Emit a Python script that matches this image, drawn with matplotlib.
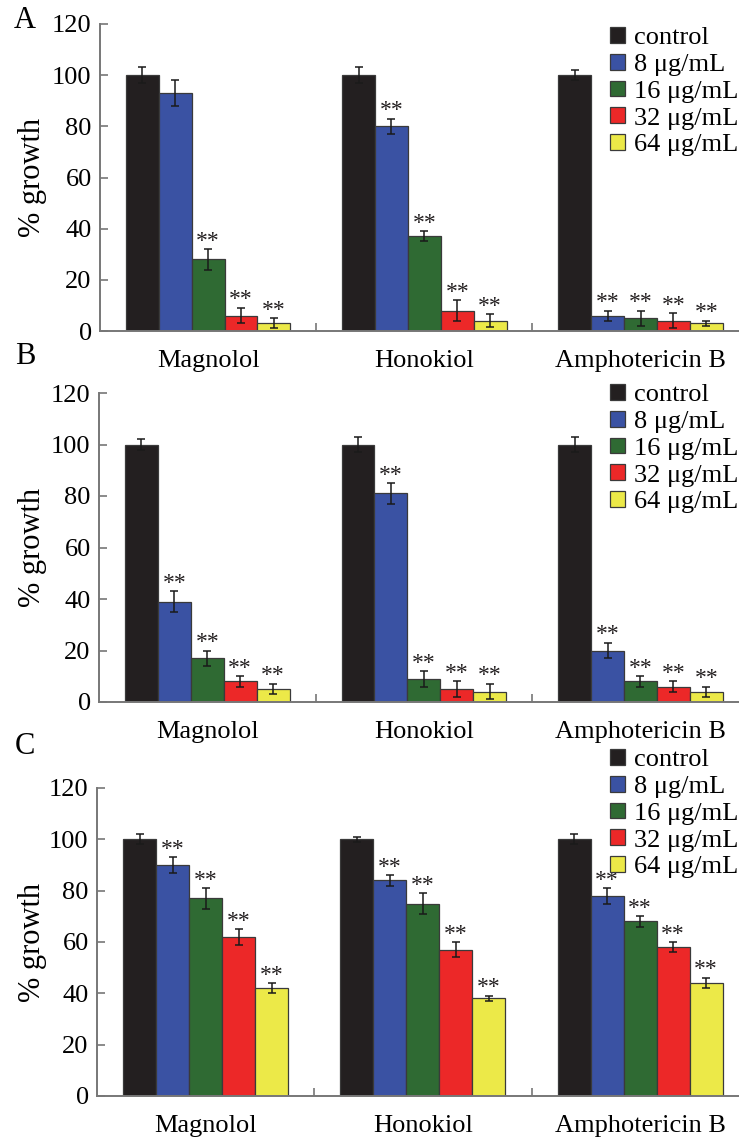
import matplotlib
matplotlib.use("Agg")
import matplotlib.pyplot as plt
from matplotlib.patches import Patch
import numpy as np

plt.rcParams['font.family'] = ['Liberation Serif', 'DejaVu Serif']

compounds = ["Magnolol", "Honokiol", "Amphotericin B"]
series = ["control", "8 μg/mL", "16 μg/mL", "32 μg/mL", "64 μg/mL"]
colors = ["#231f20", "#3a52a3", "#2f6a33", "#ec2828", "#ece948"]
panel_letters = ["A", "B", "C"]
yticks = [0, 20, 40, 60, 80, 100, 120]

# values[compound][series]
A_vals = [[100, 93, 28, 6, 3], [100, 80, 37, 8, 4], [100, 6, 5, 4, 3]]
A_err = [[3, 5, 4, 3, 2], [3, 3, 2, 4, 2.5], [2, 2, 3, 3, 1]]
A_sig = [[0, 0, 1, 1, 1], [0, 1, 1, 1, 1], [0, 1, 1, 1, 1]]

B_vals = [[100, 39, 17, 8, 5], [100, 81, 9, 5, 4], [100, 20, 8, 6, 4]]
B_err = [[2, 4, 3, 2, 2], [3, 4, 3, 3, 3], [3, 3, 2, 2, 2]]
B_sig = [[0, 1, 1, 1, 1], [0, 1, 1, 1, 1], [0, 1, 1, 1, 1]]

C_vals = [[100, 90, 77, 62, 42], [100, 84, 75, 57, 38], [100, 78, 68, 58, 44]]
C_err = [[2, 3, 4, 3, 2], [1, 2, 4, 3, 1], [2, 3, 2, 2, 2]]
C_sig = [[0, 1, 1, 1, 1], [0, 1, 1, 1, 1], [0, 1, 1, 1, 1]]

panels = [(A_vals, A_err, A_sig), (B_vals, B_err, B_sig), (C_vals, C_err, C_sig)]

W, H = 739, 1139
fig = plt.figure(figsize=(W / 100, H / 100), dpi=100)

# axes geometry in pixels: (left, y_zero, y_top)
geom = [(100, 331, 24), (99, 702, 393), (97, 1096, 788)]
legend_top = [27, 384, 749]
letter_pos = [(25, 20), (25, 356), (25, 747)]

bw = 0.152
x = np.arange(len(compounds))
axis_col = "#777777"

for p, ((vals, errs, sigs), (lx, y0, yt)) in enumerate(zip(panels, geom)):
    ax = fig.add_axes([lx / W, 1 - y0 / H, (W - lx) / W, (y0 - yt) / H])
    vals = np.array(vals)
    errs = np.array(errs)
    for s in range(len(series)):
        xs = x + (s - 2) * bw
        ax.bar(xs, vals[:, s], width=bw, color=colors[s], edgecolor="#3a3a3a",
               linewidth=0.9, zorder=2)
        ax.errorbar(xs, vals[:, s], yerr=errs[:, s], fmt="none", ecolor="#1a1a1a",
                    elinewidth=1.1, capsize=2.6, capthick=1.1, zorder=3)
        for c in range(len(compounds)):
            if sigs[c][s]:
                ax.annotate("**", (xs[c], vals[c, s] + errs[c, s]),
                            xytext=(0, 1.8), textcoords="offset points",
                            ha="center", va="baseline", fontsize=17,
                            color="#231f20")
    ax.set_ylim(0, 120)
    ax.set_xlim(-0.5, 2.455)
    ax.set_yticks(yticks)
    ax.set_xticks(x)
    ax.set_xticklabels(compounds, fontsize=19)
    ax.set_xticks([0.5, 1.5], minor=True)
    ax.tick_params(axis="x", which="major", length=0, pad=14)
    ax.tick_params(axis="x", which="minor", direction="in", length=5.5,
                   width=1.2, color=axis_col)
    ax.tick_params(axis="y", direction="in", length=6, width=1.2,
                   color=axis_col, labelsize=19, pad=6)
    for sp in ["top", "right"]:
        ax.spines[sp].set_visible(False)
    for sp in ["left", "bottom"]:
        ax.spines[sp].set_color(axis_col)
        ax.spines[sp].set_linewidth(1.4)
    ax.set_ylabel("% growth", fontsize=22)
    ax.yaxis.set_label_coords(-(lx - 47) / (W - lx), 0.5)

    handles = [Patch(facecolor=colors[s], edgecolor="#3a3a3a", linewidth=0.9)
               for s in range(len(series))]
    ax.legend(handles, series, loc="upper left",
              bbox_to_anchor=(610 / W, 1 - legend_top[p] / H),
              bbox_transform=fig.transFigure, frameon=False, fontsize=19,
              handlelength=0.55, handleheight=0.55, handletextpad=0.35,
              labelspacing=0.17, borderpad=0, borderaxespad=0)

    fig.text(letter_pos[p][0] / W, 1 - letter_pos[p][1] / H, panel_letters[p],
             fontsize=22, ha="center", va="center")

fig.savefig("out.png", dpi=100)
